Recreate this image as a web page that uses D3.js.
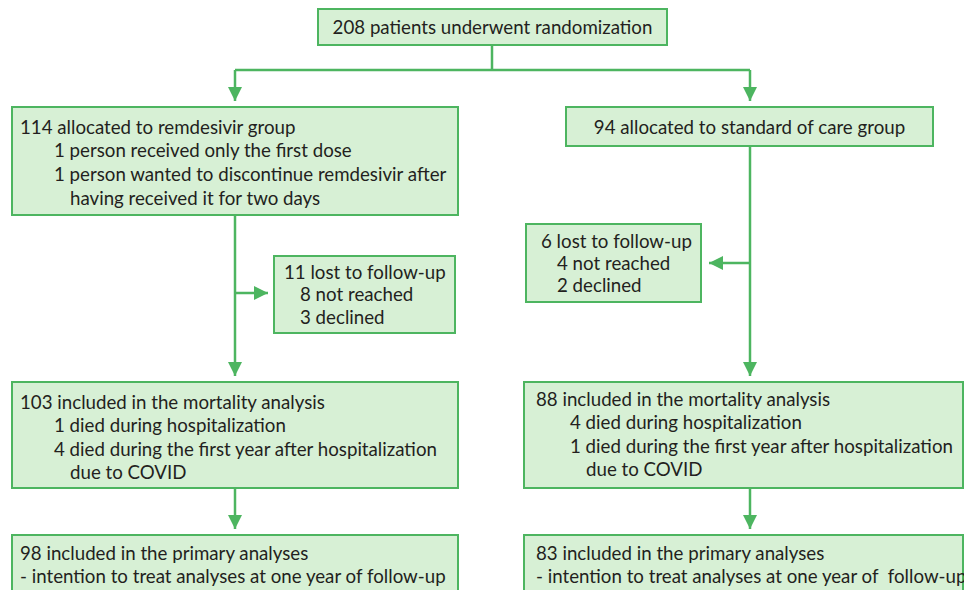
<!DOCTYPE html>
<html>
<head>
<meta charset="utf-8">
<script src="https://cdn.jsdelivr.net/npm/d3@7"></script>
<style>
  body { margin: 0; background: #fff; }
  svg { display: block; }
  text { white-space: pre; }
</style>
</head>
<body>
<svg id="flow"></svg>
<script>
// box texts, each line: [indent level, text]
const randomized = [[0, "208 patients underwent randomization"]];
const remdesivirGroup = [
  [0, "114 allocated to remdesivir group"],
  [1, "1 person received only the first dose"],
  [1, "1 person wanted to discontinue remdesivir after"],
  [2, "having received it for two days"]
];
const standardGroup = [[0, "94 allocated to standard of care group"]];
const remdesivirLost = [
  [0, "11 lost to follow-up"],
  [1, "8 not reached"],
  [1, "3 declined"]
];
const standardLost = [
  [0, "6 lost to follow-up"],
  [1, "4 not reached"],
  [1, "2 declined"]
];
const remdesivirMortality = [
  [0, "103 included in the mortality analysis"],
  [1, "1 died during hospitalization"],
  [1, "4 died during the first year after hospitalization"],
  [2, "due to COVID"]
];
const standardMortality = [
  [0, "88 included in the mortality analysis"],
  [1, "4 died during hospitalization"],
  [1, "1 died during the first year after hospitalization"],
  [2, "due to COVID"]
];
const remdesivirPrimary = [
  [0, "98 included in the primary analyses"],
  [0, "- intention to treat analyses at one year of follow-up"]
];
const standardPrimary = [
  [0, "83 included in the primary analyses"],
  [0, "- intention to treat analyses at one year of  follow-up"]
];

const width = 964, height = 590;
const stroke = "#4db560", fill = "#d7f0d5", ink = "#231f20";

// layout (box geometry) kept apart from the texts
const boxes = [
  { lines: randomized, x: 318, y: 9, w: 349, h: 36, center: true, first: 27 },
  { lines: remdesivirGroup, x: 12, y: 107, w: 446, h: 108, pad: 8, first: 127, step: 23.7 },
  { lines: standardGroup, x: 566, y: 107, w: 367, h: 39, center: true, first: 127 },
  { lines: remdesivirLost, x: 274, y: 256, w: 181, h: 77, pad: 10, first: 272, step: 22.5, ind: 16 },
  { lines: standardLost, x: 526, y: 224, w: 175, h: 78, pad: 15, first: 241, step: 22, ind: 16 },
  { lines: remdesivirMortality, x: 12, y: 382, w: 446, h: 106, pad: 8, first: 402, step: 23.5 },
  { lines: standardMortality, x: 524, y: 382, w: 439, h: 106, pad: 12, first: 399, step: 23.5 },
  { lines: remdesivirPrimary, x: 12, y: 535, w: 446, h: 70, pad: 8, first: 553, step: 23 },
  { lines: standardPrimary, x: 524, y: 535, w: 439, h: 70, pad: 12, first: 553, step: 23 }
];

const colX = { left: 235, right: 750 };

const connectors = [
  { pts: [[492, 45], [492, 70]] },
  { pts: [[colX.left, 70], [colX.right, 70]] },
  { pts: [[colX.left, 70], [colX.left, 107]], arrow: true },
  { pts: [[colX.right, 70], [colX.right, 107]], arrow: true },
  { pts: [[colX.left, 215], [colX.left, 382]], arrow: true },
  { pts: [[colX.left, 293], [274, 293]], arrow: true },
  { pts: [[colX.right, 146], [colX.right, 382]], arrow: true },
  { pts: [[colX.right, 263], [701, 263]], arrow: true, gap: 8 },
  { pts: [[colX.left, 488], [colX.left, 535]], arrow: true },
  { pts: [[colX.right, 488], [colX.right, 535]], arrow: true }
];

const svg = d3.select("#flow")
  .attr("width", width)
  .attr("height", height)
  .attr("viewBox", [0, 0, width, height]);

svg.append("defs").append("marker")
  .attr("id", "head")
  .attr("viewBox", "0 0 14 14")
  .attr("refX", 14).attr("refY", 7)
  .attr("markerWidth", 14).attr("markerHeight", 14)
  .attr("markerUnits", "userSpaceOnUse")
  .attr("orient", "auto")
  .append("path")
  .attr("d", "M0,0L14,7L0,14Z")
  .attr("fill", stroke);

const line = d3.line();

svg.append("g")
  .selectAll("path")
  .data(connectors)
  .join("path")
  .attr("d", d => {
    const p = d.pts.map(q => q.slice());
    if (d.arrow) {
      // stop a little before the box edge
      const a = p[0], b = p[1], g = d.gap || 6;
      const dx = Math.sign(b[0] - a[0]), dy = Math.sign(b[1] - a[1]);
      b[0] -= dx * g; b[1] -= dy * g;
    }
    return line(p);
  })
  .attr("fill", "none")
  .attr("stroke", stroke)
  .attr("stroke-width", 2.5)
  .attr("marker-end", d => d.arrow ? "url(#head)" : null);

const box = svg.append("g")
  .selectAll("g")
  .data(boxes)
  .join("g");

box.append("rect")
  .attr("x", d => d.x)
  .attr("y", d => d.y)
  .attr("width", d => d.w)
  .attr("height", d => d.h)
  .attr("fill", fill)
  .attr("stroke", stroke)
  .attr("stroke-width", 2);

box.selectAll("text")
  .data(d => d.lines.map((l, i) => ({ b: d, level: l[0], text: l[1], i })))
  .join("text")
  .attr("x", d => d.b.center ? d.b.x + d.b.w / 2 : d.b.x + d.b.pad + d.level * (d.level === 2 ? (d.b.ind || 25) : (d.b.ind || 34)))
  .attr("y", d => d.b.first + d.i * (d.b.step || 0))
  .attr("dy", "0.35em")
  .attr("text-anchor", d => d.b.center ? "middle" : "start")
  .attr("font-family", "Lato, 'Open Sans', sans-serif")
  .attr("font-size", 18.7)
  .attr("fill", ink)
  .text(d => d.text);
</script>
</body>
</html>
